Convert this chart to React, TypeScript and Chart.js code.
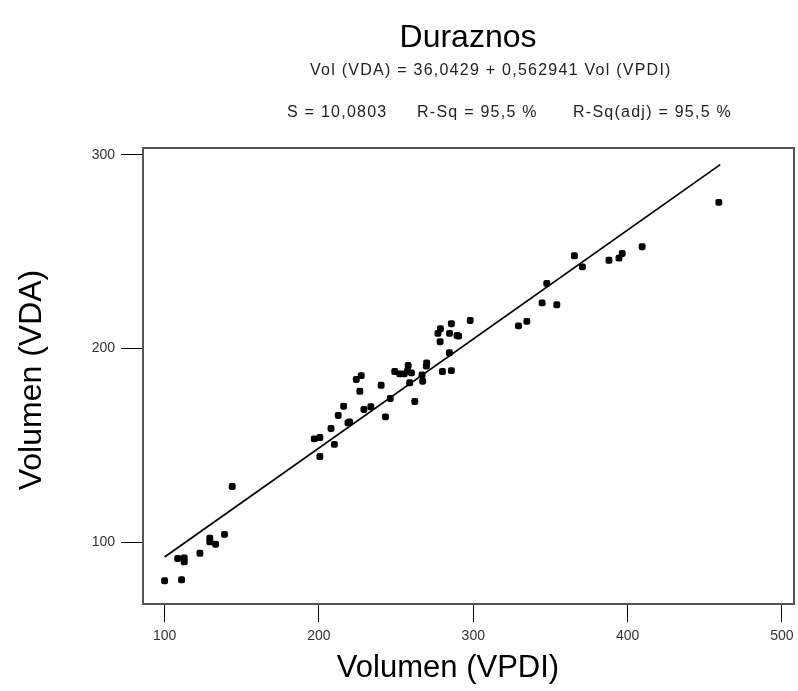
import React, { useEffect, useRef } from "react";
import { Chart, registerables } from "chart.js";

Chart.register(...registerables);

// Scatter data: Volumen (VPDI) vs Volumen (VDA)
const vpdi: number[] = [
  100, 111, 108.5, 112.7, 112.7, 122.9, 129.3, 129.3, 133, 138.8, 143.8,
  197, 200.6, 207.8, 210, 200.6, 212.5,
  216, 218.8, 219.8, 224.2, 227.4, 226.5, 229.1, 233.6, 240.3, 243.1, 246.2,
  249.1, 252.4, 255.2, 257.3, 257.8, 258.8, 259.9, 262.1, 266.8, 267.2, 269.6,
  269.8, 277.1, 278.5, 278.7, 280, 284.5, 284.6, 285.8, 285.8, 289.5, 290.5, 298,
  329.3, 334.7, 344.6, 347.6, 354.1, 365.5, 370.7, 387.9, 394.4, 396.5, 409.4, 459.1,
];
const vda: number[] = [
  80, 80.5, 91.5, 91.8, 89.8, 94.2, 102, 100.1, 98.9, 104, 128.7,
  153.3, 154, 158.7, 150.5, 144.2, 165.4,
  170.2, 161.6, 162.1, 184, 186, 177.9, 168.5, 169.9, 181, 164.7, 174.2,
  188.1, 186.9, 186.9, 188.3, 191.2, 182.3, 187.4, 172.6, 186.4, 183.1, 190.9,
  192.6, 207.8, 203.5, 210.2, 188.1, 197.8, 207.8, 212.8, 188.6, 206.7, 206.4, 214.5,
  211.7, 214, 223.6, 233.6, 222.6, 247.9, 242.2, 245.6, 246.7, 249.1, 252.6, 275.5,
];

// Fitted regression line endpoints
const fitX: number[] = [100, 460];
const fitY: number[] = [92.3, 295.0];

const xTicks: number[] = [100, 200, 300, 400, 500];
const yTicks: number[] = [100, 200, 300];

const titleText = "Duraznos";
const equationText = "Vol (VDA) = 36,0429 + 0,562941 Vol (VPDI)";
const statsTexts: string[] = ["S = 10,0803", "R-Sq = 95,5 %", "R-Sq(adj) = 95,5 %"];
const xTitle = "Volumen (VPDI)";
const yTitle = "Volumen (VDA)";

const FONT = "'Liberation Sans', Arial, sans-serif";

const headerPlugin = {
  id: "header",
  afterDraw(chart: any) {
    const { ctx, chartArea } = chart;
    ctx.save();
    // frame
    ctx.strokeStyle = "#555";
    ctx.lineWidth = 2;
    ctx.strokeRect(chartArea.left, chartArea.top, chartArea.right - chartArea.left, chartArea.bottom - chartArea.top);
    ctx.fillStyle = "#000";
    ctx.textBaseline = "alphabetic";
    ctx.textAlign = "center";
    ctx.font = `32px ${FONT}`;
    ctx.fillText(titleText, 468, 47);
    // axis titles
    ctx.font = `31px ${FONT}`;
    ctx.fillText(xTitle, 448, 677);
    ctx.font = `32px ${FONT}`;
    ctx.save();
    ctx.translate(41, 380);
    ctx.rotate(-Math.PI / 2);
    ctx.fillText(yTitle, 0, 0);
    ctx.restore();
    // equation + stats
    ctx.fillStyle = "#222";
    ctx.font = `16px ${FONT}`;
    ctx.textAlign = "left";
    try { (ctx as any).letterSpacing = "1.25px"; } catch (e) {}
    ctx.fillText(equationText, 310, 75);
    const xs = [287, 417, 573];
    statsTexts.forEach((t, i) => ctx.fillText(t, xs[i], 117));
    try { (ctx as any).letterSpacing = "0px"; } catch (e) {}
    ctx.restore();
  },
};

export default function App() {
  const ref = useRef<HTMLCanvasElement>(null);
  useEffect(() => {
    if (!ref.current) return;
    const chart = new Chart(ref.current, {
      type: "scatter",
      data: {
        datasets: [
          {
            type: "scatter",
            data: vpdi.map((x, i) => ({ x, y: vda[i] })),
            backgroundColor: "#000",
            borderColor: "#000",
            pointStyle: "rectRounded",
            pointRadius: 4,
            pointBorderWidth: 0,
          },
          {
            type: "line",
            data: fitX.map((x, i) => ({ x, y: fitY[i] })),
            borderColor: "#000",
            borderWidth: 1.7,
            pointRadius: 0,
            fill: false,
          } as any,
        ],
      },
      options: {
        animation: false,
        responsive: true,
        maintainAspectRatio: false,
        layout: { padding: { top: 148, right: 3, left: 0, bottom: 0 } },
        plugins: { legend: { display: false }, tooltip: { enabled: false } },
        scales: {
          x: {
            type: "linear",
            min: 86,
            max: 507.8,
            afterBuildTicks: (s: any) => { s.ticks = xTicks.map((v) => ({ value: v })); },
            afterFit: (s: any) => { s.height = 87; s.paddingLeft = 0; s.paddingRight = 0; },
            grid: { display: true, drawOnChartArea: false, drawTicks: true, tickLength: 18, tickColor: "#000", tickWidth: 1 },
            border: { display: false },
            ticks: { color: "#333", font: { family: FONT, size: 14 }, padding: 6, maxRotation: 0 },
          },
          y: {
            type: "linear",
            min: 68,
            max: 303.6,
            afterBuildTicks: (s: any) => { s.ticks = yTicks.map((v) => ({ value: v })); },
            afterFit: (s: any) => { s.width = 143; s.paddingTop = 0; s.paddingBottom = 0; },
            grid: { display: true, drawOnChartArea: false, drawTicks: true, tickLength: 22, tickColor: "#000", tickWidth: 1 },
            border: { display: false },
            ticks: { color: "#333", font: { family: FONT, size: 14 }, padding: 6 },
          },
        },
      },
      plugins: [headerPlugin],
    });
    return () => chart.destroy();
  }, []);
  return (
    <div style={{ position: "absolute", left: 0, top: 0, width: 798, height: 691, background: "#fff" }}>
      <canvas ref={ref} />
    </div>
  );
}
